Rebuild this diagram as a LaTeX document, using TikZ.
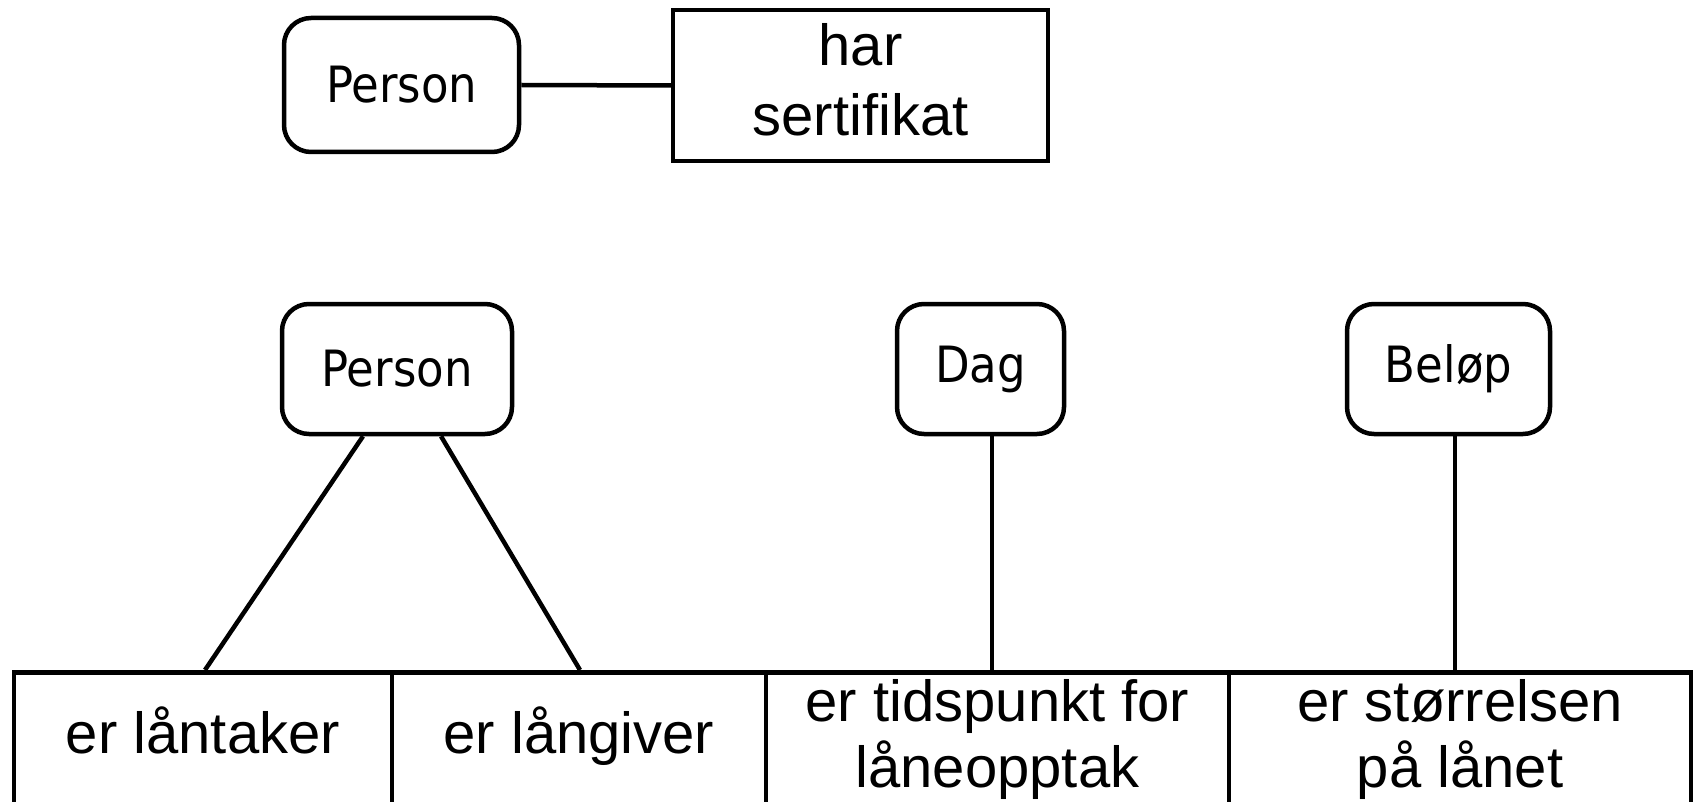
\documentclass[tikz,border=0pt]{standalone}
\usepackage{fontspec}
\setmainfont{Liberation Sans}
\newfontfamily\tahfont{DejaVu Sans Condensed}
\usetikzlibrary{calc}
\begin{document}
\begin{tikzpicture}[x=1pt,y=-1pt,line width=4.5pt,
  ent/.style={draw,rounded corners=27pt,inner sep=0pt,font=\tahfont\fontsize{50}{60}\selectfont},
  rel/.style={draw,inner sep=0pt,align=center,font=\fontsize{58}{70}\selectfont},
  cell/.style={draw,inner sep=0pt,minimum height=170pt,anchor=north},
  lab/.style={inner sep=0pt,align=center,font=\fontsize{58}{66}\selectfont}]
\useasboundingbox (0,0) rectangle (1694,802);
\clip (0,0) rectangle (1694,802);
% top
\node[ent,minimum width=235pt,minimum height=134pt] (p1) at (401.5,85) {Person};
\node[rel,minimum width=375pt,minimum height=151pt,text depth=12pt] (hs) at (860.5,85.5) {har\\sertifikat};
\draw (p1.east) -- (hs.west);
% entities
\node[ent,minimum width=230pt,minimum height=130pt] (p2) at (397,369) {Person};
\node[ent,minimum width=167pt,minimum height=130pt] (dag) at (980.5,369) {Dag};
\node[ent,minimum width=203pt,minimum height=130pt] (bel) at (1448.5,369) {Beløp};
% relation cells
\node[cell,minimum width=378pt] (c1) at (203,670) {};
\node[cell,minimum width=374pt] (c2) at (579,670) {};
\node[cell,minimum width=463pt] (c3) at (997.5,670) {};
\node[cell,minimum width=462pt] (c4) at (1460,670) {};
\node[lab,anchor=base] (t1) at (203,753) {er låntaker};
\node[lab,anchor=base] (t2) at (579,753) {er långiver};
\node[lab] (t3) at (997.5,739) {er tidspunkt for\\låneopptak};
\node[lab] (t4) at (1460,739) {er størrelsen\\på lånet};
% connectors
\coordinate (e1) at (205,670);
\coordinate (e2) at (580,670);
\coordinate (e3) at (992,670);
\coordinate (e4) at (1455,670);
\draw ($(p2.south)+(-34,0)$) -- (e1);
\draw ($(p2.south)+(44,0)$) -- (e2);
\draw (dag.south -| e3) -- (e3);
\draw (bel.south -| e4) -- (e4);
\end{tikzpicture}
\end{document}
